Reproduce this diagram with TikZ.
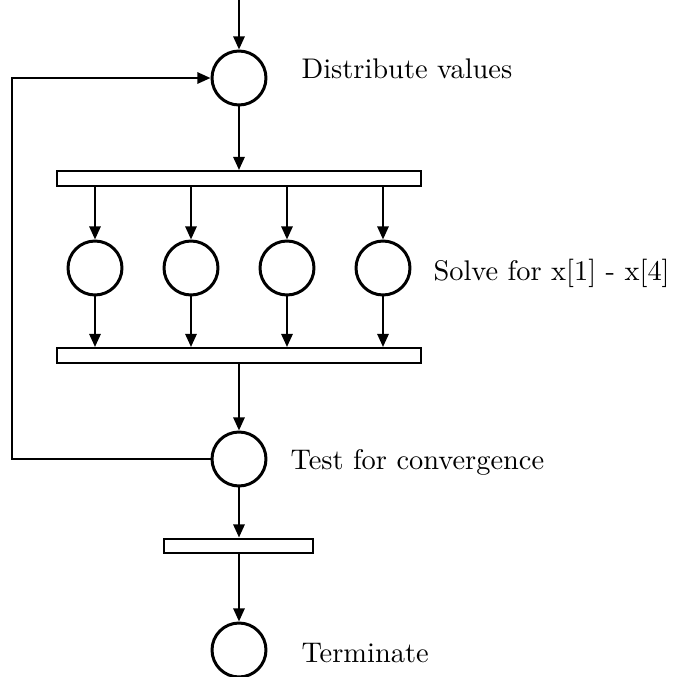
\documentclass[tikz,border=0pt]{standalone}
\usetikzlibrary{arrows.meta}
\begin{document}
\begin{tikzpicture}[x=0.352pt,y=-0.352pt,
  place/.style={circle,draw,line width=1.05pt,minimum size=19pt,inner sep=0pt},
  bar/.style={rectangle,draw,line width=0.75pt,minimum height=5.2pt,inner sep=0pt},
  flow/.style={line width=0.85pt,-{Triangle[length=4.6pt,width=3.9pt]}},
  lbl/.style={anchor=base west,inner sep=0pt,font=\fontsize{10}{12}\selectfont}]
\useasboundingbox (0,0) rectangle (675,677);

% places
\coordinate (in) at (239,0);
\node[place] (dist) at (239,78) {};
\node[place] (s1) at (95,268) {};
\node[place] (s2) at (191,268) {};
\node[place] (s3) at (287,268) {};
\node[place] (s4) at (383,268) {};
\node[place] (test) at (239,459) {};
\node[place] (term) at (239,650) {};

% transitions
\node[bar,minimum width=128.1pt] (fork) at (239,178.5) {};
\node[bar,minimum width=128.1pt] (join) at (239,355.5) {};
\node[bar,minimum width=52.4pt] (stop) at (238.5,546) {};

% labels
\node[lbl] (tdist) at (301,78) {Distribute values};
\node[lbl] (tsolve) at (433,280) {Solve for x[1] - x[4]};
\node[lbl] (ttest) at (290,469) {Test for convergence};
\node[lbl] (tterm) at (301,662) {Terminate};

% flow
\draw[flow] (in) -- (dist);
\draw[flow] (dist) -- (dist |- fork.north);
\foreach \s in {s1,s2,s3,s4}{
  \draw[flow] (\s |- fork.south) -- (\s);
  \draw[flow] (\s) -- (\s |- join.north);
}
\draw[flow] (join.south -| test) -- (test);
\draw[flow] (test) -- (test |- stop.north);
\draw[flow] (stop.south -| term) -- (term);

% feedback loop
\coordinate (lb) at (12,459);
\coordinate (lt) at (12,78);
\draw[flow] (test.west) -- (lb) -- (lt) -- (dist.west);
\end{tikzpicture}
\end{document}
